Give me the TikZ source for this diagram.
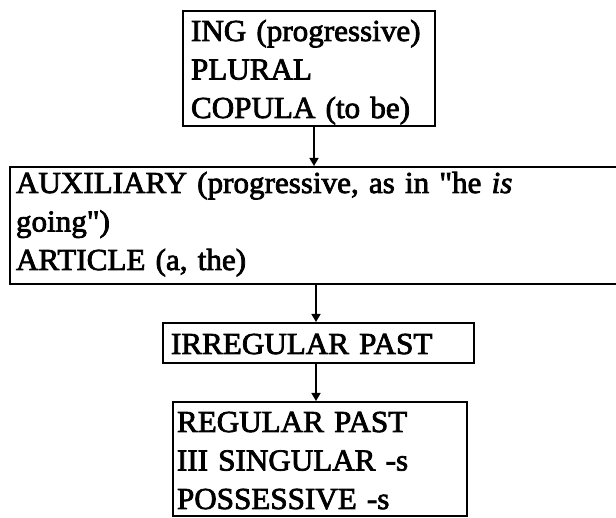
\documentclass[tikz,border=0pt]{standalone}
\usepackage{fontspec}
\newfontfamily\boxfont{Liberation Serif}[FakeStretch=1.02,FakeBold=2.5]
\usetikzlibrary{arrows.meta}
\begin{document}
\begin{tikzpicture}[x=1pt,y=1pt,
    box/.style={draw,line width=2pt,anchor=north west,align=left,inner ysep=2pt,
                font=\boxfont\fontsize{30.5pt}{38.5pt}\selectfont},
    arr/.style={line width=1.5pt,-{Triangle[length=8pt,width=9pt]}}]
      \useasboundingbox (0,0) rectangle (616,-518);
      %%%%%%%%%%%%%%%%%%%%%%%%%%%%%%%%%%%%%%%%%%%%%%%
      \node[box, text width=236pt, inner xsep=8pt] at (182,-10) (b1)
            {\rule{0pt}{28pt}ING (progressive)\\
             PLURAL\\
             COPULA (to be)\rule[-5pt]{0pt}{5pt}};
      %%%%%%%%%%%%%%%%%%%%%%%%%%%%%%%%%%%%%%%%%%%%%%%
      \node[box, text width=619pt, inner xsep=6pt] at (9,-166) (b2)
            {\rule{0pt}{24pt}AUXILIARY (progressive, as in "he \textit{is}\\
             going")\\
             ARTICLE (a, the)\rule[-12pt]{0pt}{12pt}};
      %%%%%%%%%%%%%%%%%%%%%%%%%%%%%%%%%%%%%%%%%%%%%%%
      \node[box, text width=295pt, inner xsep=8pt] at (162,-322) (b3)
            {\rule[-7pt]{0pt}{36pt}IRREGULAR PAST};
      %%%%%%%%%%%%%%%%%%%%%%%%%%%%%%%%%%%%%%%%%%%%%%%
      \node[box, text width=286pt, inner xsep=4pt] at (172,-401) (b4)
            {\rule{0pt}{28pt}REGULAR PAST\\
             III SINGULAR -s\\
             POSSESSIVE -s\rule[-5pt]{0pt}{5pt}};
      %%%%%%%%%%%%%%%%%%%%%%%%%%%%%%%%%%%%%%%%%%%%%%%
      \draw[arr] ([xshift=5pt]b1.south) -- ([xshift=5pt]b1.south |- b2.north);
      \draw[arr] ([xshift=-2.5pt]b3.north |- b2.south) -- ([xshift=-2.5pt]b3.north);
      \draw[arr] ([xshift=-4pt]b4.north |- b3.south) -- ([xshift=-4pt]b4.north);
\end{tikzpicture}
\end{document}
